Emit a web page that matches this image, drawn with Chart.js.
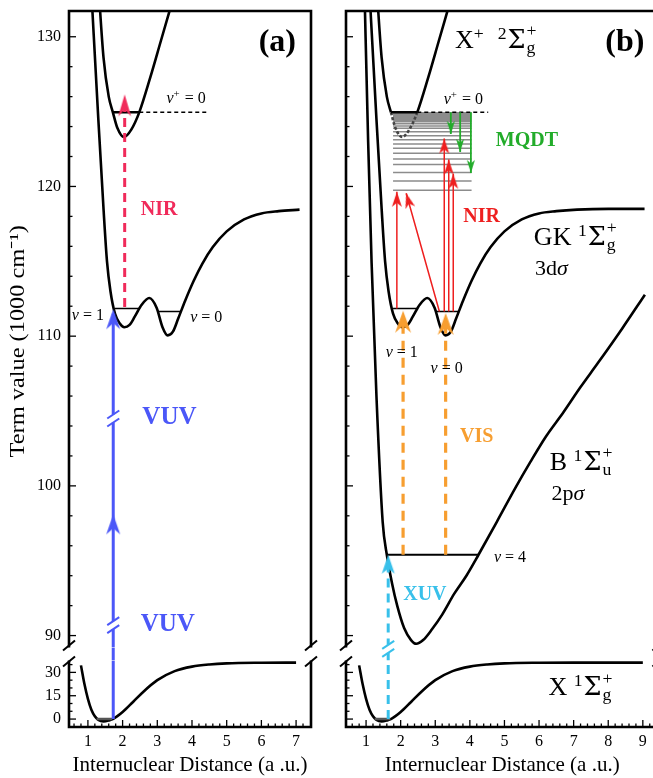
<!DOCTYPE html>
<html>
<head>
<meta charset="utf-8">
<script src="https://cdn.jsdelivr.net/npm/chart.js"></script>
<style>
  html, body { margin: 0; padding: 0; background: #fff; width: 653px; height: 778px; overflow: hidden; }
  canvas { position: absolute; top: 0; }
  #panelA { left: 0; }
  #panelB { left: 330px; }
</style>
</head>
<body>
<canvas id="panelA" width="322" height="778"></canvas>
<canvas id="panelB" width="340" height="778"></canvas>
<script>
// --- axis ranges (broken y axis: upper part in 1000 cm-1, lower part compressed)
const upMin = 89.2, upMax = 131.72;
const lowMin = -5.1, lowMax = 37.66;
const xRangeA = [0.455, 7.43];
const xRangeB = [0.42, 9.45];

// --- potential curves
const groundX = [0.8, 0.9, 1.0, 1.1, 1.2, 1.3, 1.45, 1.6, 1.73, 2.0, 2.3, 2.6, 3.0, 3.5, 4.0, 4.5, 5.0, 6.0, 7.0, 8.0, 9.0];
const groundY = [34.5, 22.5, 13, 6.0, 1.8, -0.5, -1.5, -0.9, 0.1, 4.5, 11.0, 17.6, 25.0, 30.8, 33.7, 35.1, 35.8, 36.2, 36.3, 36.3, 36.3];
const gkX = [1.10, 1.30, 1.45, 1.55, 1.65, 1.78, 1.92, 2.05, 2.2, 2.35, 2.55, 2.77, 2.98, 3.15, 3.3, 3.45, 3.6, 3.8, 4.05, 4.3, 4.6, 5.0, 5.5, 6.0, 6.5, 7.1, 8.0, 9.05];
const gkY = [133, 124.5, 118.5, 115.0, 113.0, 111.5, 110.85, 110.6, 110.75, 111.3, 112.1, 112.55, 111.9, 110.6, 110.05, 110.3, 111.16, 112.35, 113.7, 114.85, 115.95, 117.0, 117.8, 118.2, 118.35, 118.45, 118.5, 118.5];
const ionX = [1.30, 1.45, 1.6, 1.72, 1.85, 2.04, 2.25, 2.48, 2.8, 3.1, 3.45];
const ionY = [133.5, 128.6, 126.0, 124.95, 123.9, 123.3, 123.8, 124.95, 127.3, 129.7, 132.5];
const bX = [0.95, 1.06, 1.16, 1.3, 1.48, 1.6, 1.75, 1.9, 2.1, 2.3, 2.45, 2.65, 2.9, 3.2, 3.55, 3.9, 4.25, 4.78, 5.3, 5.75, 6.2, 6.7, 7.2, 7.7, 8.4, 9.06];
const bY = [133.5, 123, 114.9, 106, 97.6, 95.4, 93.5, 92.0, 90.5, 89.7, 89.45, 89.7, 90.4, 91.4, 92.8, 94.0, 95.4, 97.6, 99.8, 101.6, 103.3, 104.9, 106.6, 108.2, 110.5, 112.77];

// --- vibrational levels
const groundLevelX = [1.25, 1.7], groundLevelY = 0;
const ionLevel = 124.95;
const ionSolidX = [1.72, 2.48];
const ionDashEndA = 4.45, ionDashEndB = 4.53;
const gkV1X = [1.78, 2.5], gkV1Y = 111.85;
const gkV0X = [3.02, 3.68], gkV0Y = 111.65;
const bV4X = [1.6, 4.25], bV4Y = 95.4;
const rydbergX = [1.78, 4.05];
const rydbergY = [119.74, 120.36, 120.93, 121.46, 121.84, 122.22, 122.55, 122.84, 123.12, 123.39, 123.65, 123.88, 124.04, 124.19, 124.32, 124.43, 124.53, 124.61, 124.68, 124.74, 124.8, 124.85, 124.89, 124.92];

// --- transitions, panel (a)
const vuvX = 1.73, vuvTipY = [98.1, 111.8], vuvCutY = [104.5, 90.7];
const nirAX = 2.06, nirAFromY = 111.95, nirATipY = 126.15;
// --- transitions, panel (b)
const xuvX = 1.64, xuvTipY = 95.4;
const visX = [2.07, 3.30], visFromY = 95.4, visTipY = [111.7, 111.55];
const nirFromX = [1.89, 3.12, 3.26, 3.39, 3.52];
const nirFromY = [111.85, 111.65, 111.65, 111.65, 111.65];
const nirTipX = [1.89, 2.16, 3.26, 3.39, 3.52];
const nirTipY = [119.64, 119.55, 123.2, 121.8, 120.85];
const mqdtX = [3.45, 3.72, 4.03], mqdtTipY = [123.5, 122.3, 120.9];

const cVUV = '#4b57f8', cNIRa = '#f02a5a', cNIRb = '#ee1f1f', cMQDT = '#22ac2a', cVIS = '#f79e30', cXUV = '#38c0ea';
const FONT = "'Liberation Serif', 'Times New Roman', serif";
const SYM = "'DejaVu Serif', serif";
Chart.defaults.font.family = FONT;
Chart.defaults.color = '#000';

const pts = (xs, ys) => xs.map((x, i) => ({ x, y: ys[i] }));
const hlines = (xs, ys) => ys.flatMap(y => [{ x: xs[0], y }, { x: xs[1], y }, { x: xs[1], y: null }]);
const segs = (fx, fy, tx, ty) => fx.flatMap((x, i) => [{ x, y: fy[i] }, { x: tx[i], y: ty[i] }, { x: tx[i], y: null }]);
const isMult = (v, m) => Math.abs(v / m - Math.round(v / m)) < 1e-6;

function headImg(color, len, wid, notch) {
  const s = Math.ceil(len * 2 + 4);
  const c = document.createElement('canvas');
  c.width = c.height = s;
  const g = c.getContext('2d');
  const m = s / 2;
  g.fillStyle = color;
  g.beginPath();
  g.moveTo(m, m);
  g.lineTo(m + wid / 2, m + len);
  g.lineTo(m, m + len - notch);
  g.lineTo(m - wid / 2, m + len);
  g.closePath();
  g.fill();
  return c;
}

function rotation(c) {
  const ds = c.dataset, f = ds.from && ds.from[c.dataIndex], t = ds.data[c.dataIndex];
  if (!f || !t) return 0;
  const xs = c.chart.scales.x, ys = c.chart.scales[ds.yAxisID];
  const dx = xs.getPixelForValue(t.x) - xs.getPixelForValue(f.x);
  const dy = ys.getPixelForValue(t.y) - ys.getPixelForValue(f.y);
  return Math.atan2(dx, -dy) * 180 / Math.PI;
}

function line(data, yAxisID, color, width, extra) {
  return Object.assign({ data, yAxisID, xAxisID: 'x', showLine: true, borderColor: color, backgroundColor: color,
    borderWidth: width, pointRadius: 0, fill: false, order: 3 }, extra || {});
}
function heads(tips, from, yAxisID, img) {
  return { data: tips, from, yAxisID, xAxisID: 'x', showLine: false, pointRadius: 10, pointStyle: img,
    pointRotation: rotation, order: 0 };
}
const curve = { cubicInterpolationMode: 'monotone' };

// --- panel (a) datasets
const upToA = (xs, ys) => pts(xs, ys).filter(p => p.x <= 7.1);
const dataA = [
  heads(vuvTipY.map(y => ({ x: vuvX, y })), vuvTipY.map(() => ({ x: vuvX, y: upMin })), 'yUp', headImg(cVUV, 20, 14, 6)),
  heads([{ x: nirAX, y: nirATipY }], [{ x: nirAX, y: nirAFromY }], 'yUp', headImg(cNIRa, 22, 13, 7)),
  line([{ x: vuvX, y: 0 }, { x: vuvX, y: lowMax }], 'yLow', cVUV, 3, { order: 1 }),
  line([{ x: vuvX, y: 0 }, { x: vuvX, y: 1 }], 'yGap', cVUV, 3, { order: 1 }),
  line([{ x: vuvX, y: upMin }, { x: vuvX, y: vuvTipY[1] - 0.3 }], 'yUp', cVUV, 3, { order: 1 }),
  line([{ x: nirAX, y: nirAFromY }, { x: nirAX, y: nirATipY - 0.5 }], 'yUp', cNIRa, 3, { order: 1, borderDash: [9, 6] }),
  line(pts(ionSolidX, [ionLevel, ionLevel]), 'yUp', '#000', 2.5, { order: 2 }),
  line([{ x: ionSolidX[1], y: ionLevel }, { x: ionDashEndA, y: ionLevel }], 'yUp', '#000', 1.5, { order: 2, borderDash: [4, 3] }),
  line(pts(gkV1X, [gkV1Y, gkV1Y]), 'yUp', '#000', 1.5, { order: 2 }),
  line(pts(gkV0X, [gkV0Y, gkV0Y]), 'yUp', '#000', 1.5, { order: 2 }),
  line(pts(groundLevelX, [groundLevelY, groundLevelY]), 'yLow', '#555', 2.5, { order: 2 }),
  line(pts(ionX, ionY), 'yUp', '#000', 2.6, curve),
  line(upToA(gkX, gkY), 'yUp', '#000', 2.6, curve),
  line(upToA(groundX, groundY), 'yLow', '#000', 2.6, curve)
];

// --- panel (b) datasets
const below = s => s.p0.parsed.y < ionLevel + 0.01 && s.p1.parsed.y < ionLevel + 0.01;
const dataB = [
  heads([{ x: xuvX, y: xuvTipY }], [{ x: xuvX, y: upMin }], 'yUp', headImg(cXUV, 19, 13, 5)),
  heads(visX.map((x, i) => ({ x, y: visTipY[i] })), visX.map(x => ({ x, y: visFromY })), 'yUp', headImg(cVIS, 22, 16, 7)),
  heads(pts(nirTipX, nirTipY), pts(nirFromX, nirFromY), 'yUp', headImg(cNIRb, 15, 10, 4)),
  heads(mqdtX.map((x, i) => ({ x, y: mqdtTipY[i] })), mqdtX.map(x => ({ x, y: ionLevel })), 'yUp', headImg(cMQDT, 13, 8, 3.5)),
  line([{ x: xuvX, y: 0 }, { x: xuvX, y: lowMax }], 'yLow', cXUV, 3, { order: 1, borderDash: [9, 6] }),
  line([{ x: xuvX, y: 0 }, { x: xuvX, y: 1 }], 'yGap', cXUV, 3, { order: 1 }),
  line([{ x: xuvX, y: upMin }, { x: xuvX, y: xuvTipY - 0.3 }], 'yUp', cXUV, 3, { order: 1, borderDash: [9, 6] }),
  line(segs(visX, visX.map(() => visFromY), visX, visTipY.map(y => y - 0.5)), 'yUp', cVIS, 3.2, { order: 1, borderDash: [10, 7] }),
  line(segs(nirFromX, nirFromY, nirTipX, nirTipY), 'yUp', cNIRb, 1.5, { order: 1 }),
  line(segs(mqdtX, mqdtX.map(() => ionLevel), mqdtX, mqdtTipY), 'yUp', cMQDT, 1.8, { order: 1 }),
  line(pts(ionSolidX, [ionLevel, ionLevel]), 'yUp', '#000', 2.5, { order: 2 }),
  line([{ x: ionSolidX[1], y: ionLevel }, { x: ionDashEndB, y: ionLevel }], 'yUp', '#000', 1.5, { order: 2, borderDash: [4, 3] }),
  line(pts(gkV1X, [gkV1Y, gkV1Y]), 'yUp', '#000', 1.5, { order: 2 }),
  line(pts(gkV0X, [gkV0Y, gkV0Y]), 'yUp', '#000', 1.5, { order: 2 }),
  line(pts(bV4X, [bV4Y, bV4Y]), 'yUp', '#000', 2.2, { order: 2 }),
  line(pts(groundLevelX, [groundLevelY, groundLevelY]), 'yLow', '#555', 2.5, { order: 2 }),
  line(pts(ionX, ionY), 'yUp', '#000', 2.6, Object.assign({ segment: {
    borderColor: s => below(s) ? '#454545' : undefined,
    borderDash: s => below(s) ? [3, 2] : undefined
  } }, curve)),
  line(pts(gkX, gkY), 'yUp', '#000', 2.6, curve),
  line(pts(bX, bY), 'yUp', '#000', 2.6, curve),
  line(pts(groundX, groundY), 'yLow', '#000', 2.6, curve),
  line(hlines(rydbergX, rydbergY), 'yUp', '#8c8c8c', 1.5, { order: 4 })
];

// --- text annotations
const nu = (sup, v) => sup ? [['ν', 'it'], ['+', 'sup'], [' = ' + v, '']] : [['ν', 'it'], [' = ' + v, '']];
const term = (pre, mult, sym) => [[pre, ''], [mult, 'sup'], ['Σ', 'sym'], [sym + '|+', 'ss']];
const labelsA = [
  { x: 6.46, ax: 'yUp', y: 129.8, parts: [['(a)', '']], size: 32, bold: true, color: '#000' },
  { x: 3.05, ax: 'yUp', y: 118.52, parts: [['NIR', '']], size: 20, bold: true, color: cNIRa },
  { x: 3.35, ax: 'yUp', y: 104.7, parts: [['VUV', '']], size: 25, bold: true, color: cVUV },
  { x: 3.30, ax: 'yUp', y: 90.9, parts: [['VUV', '']], size: 25, bold: true, color: cVUV },
  { x: 3.83, ax: 'yUp', y: 125.93, parts: nu(true, '0'), size: 16 },
  { x: 1.0, ax: 'yUp', y: 111.45, parts: nu(false, '1'), size: 16 },
  { x: 4.41, ax: 'yUp', y: 111.34, parts: nu(false, '0'), size: 16 }
];
const labelsB = [
  { x: 8.48, ax: 'yUp', y: 129.8, parts: [['(b)', '']], size: 32, bold: true, color: '#000' },
  { x: 3.57, ax: 'yUp', y: 129.25, parts: [['X', ''], ['+', 'sup'], ['  ', '']].concat(term('', '2', 'g')), size: 26, left: true },
  { x: 5.85, ax: 'yUp', y: 116.09, parts: term('GK ', '1', 'g'), size: 26, left: true },
  { x: 5.88, ax: 'yUp', y: 114.08, parts: [['3d', ''], ['σ', 'it']], size: 22, left: true },
  { x: 6.31, ax: 'yUp', y: 101.06, parts: term('B ', '1', 'u'), size: 26, left: true },
  { x: 6.36, ax: 'yUp', y: 99.07, parts: [['2p', ''], ['σ', 'it']], size: 22, left: true },
  { x: 6.27, ax: 'yLow', y: 15.3, parts: term('X ', '1', 'g'), size: 26, left: true },
  { x: 4.34, ax: 'yUp', y: 118.08, parts: [['NIR', '']], size: 20, bold: true, color: cNIRb },
  { x: 5.65, ax: 'yUp', y: 123.17, parts: [['MQDT', '']], size: 20, bold: true, color: cMQDT },
  { x: 4.2, ax: 'yUp', y: 103.4, parts: [['VIS', '']], size: 20, bold: true, color: cVIS },
  { x: 2.7, ax: 'yUp', y: 92.8, parts: [['XUV', '']], size: 20, bold: true, color: cXUV },
  { x: 3.81, ax: 'yUp', y: 125.89, parts: nu(true, '0'), size: 16 },
  { x: 2.03, ax: 'yUp', y: 108.95, parts: nu(false, '1'), size: 16 },
  { x: 3.33, ax: 'yUp', y: 107.9, parts: nu(false, '0'), size: 16 },
  { x: 5.16, ax: 'yUp', y: 95.3, parts: nu(false, '4'), size: 16 }
];
const cutsA = [{ x: vuvX, ax: 'yUp', y: vuvCutY[0], color: cVUV }, { x: vuvX, ax: 'yUp', y: vuvCutY[1], color: cVUV }];
const cutsB = [{ x: xuvX, ax: 'yGap', y: 0.9, color: cXUV }];
const yTitle = 'Term value (1000 cm\u207B\u00B9)';

function drawRich(ctx, lb, px, py) {
  const size = lb.size, small = size * 0.68;
  const f = (s, it, fam) => (it ? 'italic ' : '') + (lb.bold ? 'bold ' : '') + s + 'px ' + (fam || FONT);
  const fontFor = k => k === 'sym' ? f(size * 0.98, false, SYM) : (k === 'sup' || k === 'ss') ? f(small) : f(size, k === 'it');
  const widths = lb.parts.map(([t, k]) => {
    ctx.font = fontFor(k);
    if (k === 'ss') return Math.max(...t.split('|').map(s => ctx.measureText(s).width)) + 1;
    return ctx.measureText(t).width + (k === 'sup' ? 1 : 0);
  });
  const total = widths.reduce((a, b) => a + b, 0);
  let x = lb.left ? px : px - total / 2;
  const base = lb.left ? py : py + size * 0.34;
  ctx.textAlign = 'left';
  ctx.textBaseline = 'alphabetic';
  ctx.fillStyle = lb.color || '#000';
  lb.parts.forEach(([t, k], i) => {
    ctx.font = fontFor(k);
    if (k === 'ss') {
      const [lo, hi] = t.split('|');
      ctx.fillText(lo, x + 1, base + size * 0.2);
      ctx.fillText(hi, x + 1, base - size * 0.45);
    } else if (k === 'sup') {
      ctx.fillText(t, x, base - size * 0.36);
    } else {
      ctx.fillText(t, x, base);
    }
    x += widths[i];
  });
}

const decor = {
  id: 'decor',
  afterDraw(chart, args, o) {
    const { ctx, chartArea: a, scales } = chart;
    const xs = scales.x, up = scales.yUp, low = scales.yLow;
    const seg = (x0, y0, x1, y1) => { ctx.beginPath(); ctx.moveTo(x0, y0); ctx.lineTo(x1, y1); ctx.stroke(); };
    ctx.save();
    ctx.strokeStyle = '#000';
    ctx.lineWidth = 1.3;
    xs.ticks.forEach(t => {
      const p = xs.getPixelForValue(t.value);
      if (p < a.left + 2 || p > a.right - 2) return;
      seg(p, a.bottom, p, a.bottom - (isMult(t.value, 1) ? 7 : 3.5));
    });
    [[up, 10], [low, 15]].forEach(([s, m]) => s.ticks.forEach(t => {
      const p = s.getPixelForValue(t.value);
      if (p < s.top + 2 || p > s.bottom - 2) return;
      seg(a.left, p, a.left + (isMult(t.value, m) ? 7 : 3.5), p);
    }));
    // frame with broken sides
    ctx.lineWidth = 2.6;
    ctx.lineJoin = 'miter';
    ctx.beginPath();
    ctx.moveTo(a.left, up.bottom); ctx.lineTo(a.left, a.top); ctx.lineTo(a.right, a.top); ctx.lineTo(a.right, up.bottom);
    ctx.stroke();
    ctx.beginPath();
    ctx.moveTo(a.left, low.top); ctx.lineTo(a.left, a.bottom); ctx.lineTo(a.right, a.bottom); ctx.lineTo(a.right, low.top);
    ctx.stroke();
    ctx.lineWidth = 2;
    [a.left, a.right].forEach(x => [up.bottom - 2, low.top + 1].forEach(y => seg(x - 6, y + 5, x + 6, y - 5)));
    // "//" cuts on the multi-photon arrows
    o.cuts.forEach(c => {
      const px = xs.getPixelForValue(c.x), py = scales[c.ax].getPixelForValue(c.y);
      ctx.strokeStyle = '#fff'; ctx.lineWidth = 6; seg(px, py - 4, px, py + 4);
      ctx.strokeStyle = c.color; ctx.lineWidth = 2;
      [-4, 4].forEach(d => seg(px - 6, py + d + 4, px + 6, py + d - 4));
    });
    o.labels.forEach(lb => drawRich(ctx, lb, xs.getPixelForValue(lb.x), scales[lb.ax].getPixelForValue(lb.y)));
    // rotated y-axis title, stretched along its length like the reference
    if (o.title) {
      ctx.save();
      ctx.translate(18.5, (up.top + up.bottom) / 2 + 12);
      ctx.rotate(-Math.PI / 2);
      ctx.scale(1.16, 1);
      ctx.font = '21px ' + FONT;
      ctx.fillStyle = '#000';
      ctx.textAlign = 'center';
      ctx.textBaseline = 'middle';
      ctx.fillText(o.title, 0, 0);
      ctx.restore();
    }
    ctx.restore();
  }
};

function scalesFor(xr, axisW, showY) {
  const fitY = s => { s.width = axisW; s.paddingTop = 0; s.paddingBottom = 0; };
  const font = { family: FONT, size: 16 };
  const noGrid = { display: false, drawTicks: false };
  return {
    x: { type: 'linear', position: 'bottom', min: xr[0], max: xr[1], grid: noGrid, border: { display: false },
      ticks: { stepSize: 0.2, includeBounds: false, autoSkip: false, maxRotation: 0, padding: 5, font, color: '#000',
        callback: v => isMult(v, 1) ? String(Math.round(v)) : '' },
      title: { display: true, text: 'Internuclear Distance (a .u.)', font: { family: FONT, size: 21 }, color: '#000', padding: { top: 0, bottom: 0 } },
      afterFit: s => { s.height = 51; s.paddingLeft = 0; s.paddingRight = 0; } },
    yLow: { type: 'linear', position: 'left', stack: 'y', stackWeight: 67, min: lowMin, max: lowMax, grid: noGrid, border: { display: false },
      ticks: { display: showY, stepSize: 5, includeBounds: false, autoSkip: false, padding: 8, font, color: '#000',
        callback: v => isMult(v, 15) ? String(Math.round(v)) : '' },
      afterFit: fitY },
    yGap: { type: 'linear', position: 'left', stack: 'y', stackWeight: 13, min: 0, max: 1, grid: noGrid, border: { display: false },
      ticks: { display: false }, afterFit: fitY },
    yUp: { type: 'linear', position: 'left', stack: 'y', stackWeight: 641, min: upMin, max: upMax, grid: noGrid, border: { display: false },
      ticks: { display: showY, stepSize: 2, includeBounds: false, autoSkip: false, padding: 8, font, color: '#000',
        callback: v => isMult(v, 10) ? String(Math.round(v)) : '' },
      afterFit: fitY }
  };
}

function makePanel(id, datasets, xr, axisW, padRight, showY, labels, cuts) {
  return new Chart(document.getElementById(id), {
    type: 'scatter',
    data: { datasets },
    options: {
      responsive: false,
      animation: false,
      events: [],
      layout: { padding: { top: 6, right: padRight, left: 0, bottom: 0 } },
      elements: { point: { radius: 0 } },
      scales: scalesFor(xr, axisW, showY),
      plugins: { legend: { display: false }, tooltip: { enabled: false },
        decor: { labels, cuts, title: showY ? yTitle : null } }
    },
    plugins: [decor]
  });
}

makePanel('panelA', dataA, xRangeA, 69, 10, true, labelsA, cutsA);
makePanel('panelB', dataB, xRangeB, 16, 11.6, false, labelsB, cutsB);
</script>
</body>
</html>
